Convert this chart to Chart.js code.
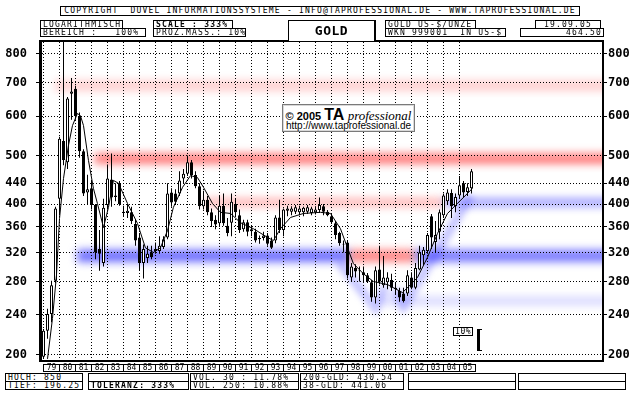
<!DOCTYPE html>
<html>
<head>
<meta charset="utf-8">
<title>GOLD US-$/UNZE</title>
<script src="https://cdn.jsdelivr.net/npm/chart.js@4.4.1/dist/chart.umd.min.js"></script>
<style>
html,body{margin:0;padding:0;background:#fff;}
#wrap{position:relative;width:640px;height:400px;overflow:hidden;background:#fff;}
#c{position:absolute;left:0;top:0;width:640px;height:400px;}
.b{position:absolute;box-sizing:border-box;border:1px solid #000;height:9px;font-family:"DejaVu Sans Mono",monospace;font-size:8px;line-height:7px;letter-spacing:1.2px;padding-left:2px;white-space:pre;color:#000;background:#fff;overflow:hidden;}
.bold{font-weight:bold;}
.c{text-align:center;padding-left:0;}
.r{text-align:right;padding-right:1px;}
#logo{position:absolute;left:282px;top:104px;width:133px;height:28px;box-sizing:border-box;border:1px solid #7a7a7a;background:#fff;box-shadow:inset 0 0 0 1px #d8d8d8;color:#000;}
#logo .l1{position:absolute;left:0;top:1px;width:131px;text-align:center;line-height:14px;white-space:nowrap;}
#logo .l2{position:absolute;left:0;top:15px;width:131px;text-align:center;line-height:11px;white-space:nowrap;font-family:"Liberation Sans",Arial,sans-serif;font-size:10px;}
</style>
</head>
<body>
<div id="wrap">
<canvas id="c" width="640" height="400"></canvas>

<div class="b c" style="left:60px;top:6px;width:520px;height:10px;line-height:8px;">COPYRIGHT  DUVEL INFORMATIONSSYSTEME - INFO@TAPROFESSIONAL.DE - WWW.TAPROFESSIONAL.DE</div>
<div class="b" style="left:40px;top:20px;width:83px;">LOGARITHMISCH</div>
<div class="b" style="left:40px;top:28px;width:106px;">BEREICH :   100%</div>
<div class="b bold" style="left:153px;top:20px;width:80px;">SCALE : 333%</div>
<div class="b" style="left:153px;top:28px;width:93px;">PROZ.MASS.: 10%</div>
<div class="b bold c" style="left:288px;top:20px;width:88px;height:21px;border-right-width:2px;border-bottom:none;font-size:13px;line-height:19px;letter-spacing:0.5px;">GOLD</div>
<div class="b" style="left:385px;top:20px;width:91px;">GOLD US-$/UNZE</div>
<div class="b" style="left:385px;top:28px;width:121px;">WKN 999001  IN US-$</div>
<div class="b c" style="left:535px;top:20px;width:66px;">19.09.05</div>
<div class="b r" style="left:520px;top:28px;width:84px;">464.50</div>

<div class="b" style="left:5px;top:373px;width:78px;">HOCH: 850</div>
<div class="b" style="left:5px;top:381px;width:78px;">TIEF: 196.25</div>
<div class="b" style="left:88px;top:373px;width:101px;"></div>
<div class="b bold" style="left:88px;top:381px;width:101px;">TOLERANZ: 333%</div>
<div class="b" style="left:190px;top:373px;width:109px;">VOL. 30 : 11.78%</div>
<div class="b" style="left:190px;top:381px;width:109px;">VOL. 250: 10.88%</div>
<div class="b" style="left:300px;top:373px;width:104px;">200-GLD: 430.54</div>
<div class="b" style="left:300px;top:381px;width:104px;">38-GLD: 441.06</div>
<div class="b" style="left:408px;top:373px;width:108px;"></div>
<div class="b" style="left:408px;top:381px;width:108px;"></div>
<div class="b" style="left:518px;top:373px;width:108px;"></div>
<div class="b" style="left:518px;top:381px;width:108px;"></div>

<div class="b" style="left:453px;top:327px;width:20px;padding-left:1px;letter-spacing:0.6px;">10%</div>

<div id="logo">
 <div class="l1"><span style="font:bold 11px 'Liberation Sans',Arial,sans-serif;">© 2005 </span><span style="font:bold 16px 'Liberation Sans',Arial,sans-serif;">TA</span><span style="font:italic 13px 'Liberation Serif','Times New Roman',serif;"> professional</span></div>
 <div class="l2">http://www.taprofessional.de</div>
</div>
</div>

<script>
// ---------- DATA ----------
// quarterly candles, each plotted at its quarter end
const periods = [
 '78Q4',
 '79Q1','79Q2','79Q3','79Q4',
 '80Q1','80Q2','80Q3','80Q4',
 '81Q1','81Q2','81Q3','81Q4',
 '82Q1','82Q2','82Q3','82Q4',
 '83Q1','83Q2','83Q3','83Q4',
 '84Q1','84Q2','84Q3','84Q4',
 '85Q1','85Q2','85Q3','85Q4',
 '86Q1','86Q2','86Q3','86Q4',
 '87Q1','87Q2','87Q3','87Q4',
 '88Q1','88Q2','88Q3','88Q4',
 '89Q1','89Q2','89Q3','89Q4',
 '90Q1','90Q2','90Q3','90Q4',
 '91Q1','91Q2','91Q3','91Q4',
 '92Q1','92Q2','92Q3','92Q4',
 '93Q1','93Q2','93Q3','93Q4',
 '94Q1','94Q2','94Q3','94Q4',
 '95Q1','95Q2','95Q3','95Q4',
 '96Q1','96Q2','96Q3','96Q4',
 '97Q1','97Q2','97Q3','97Q4',
 '98Q1','98Q2','98Q3','98Q4',
 '99Q1','99Q2','99Q3','99Q4',
 '00Q1','00Q2','00Q3','00Q4',
 '01Q1','01Q2','01Q3','01Q4',
 '02Q1','02Q2','02Q3','02Q4',
 '03Q1','03Q2','03Q3','03Q4',
 '04Q1','04Q2','04Q3','04Q4',
 '05Q1','05Q2','05Q3'
];
const openVals = [
 198,223,241,281,410, 535,485,665,680,600, 510,422,430,398,325, 305,398,448,416,440,
 386,384,385,365,343, 305,312,320,322,322, 328,343,422,420,420, 450,460,485,457,434,
 396,408,385,372,366, 397,362,367,400,380, 356,368,353,352,340, 342,346,338,338,376,
 355,388,386,386,385, 385,386,384,385,389, 396,386,378,366,350, 333,335,285,298,295,
 292,288,279,260,296, 275,279,282,272,268, 265,265,285,272,296, 316,322,378,336,352,
 380,405,421,396,416, 440,423,430];
const highVals = [
 225,247,281,395,545, 850,655,715,690,610, 515,458,445,400,355, 410,480,505,440,445,
 397,400,395,372,350, 332,330,330,335,345, 345,440,430,428,465, 470,500,490,465,440,
 425,415,392,380,415, 420,375,420,410,390, 372,372,362,357,346, 352,350,343,380,408,
 392,397,396,398,397, 395,398,395,396,412, 400,389,384,370,352, 338,338,305,303,300,
 300,291,282,300,330, 315,292,290,278,272, 272,295,292,305,330, 328,350,382,370,390,
 420,428,428,420,455, 445,440,470];
const lowVals = [
 196,215,232,278,380, 478,470,590,590,495, 415,400,390,310,294, 300,390,395,405,397,
 377,375,365,330,294, 284,305,310,318,318, 325,340,395,398,415, 440,455,450,430,390,
 390,380,360,356,360, 362,345,345,378,350, 352,345,345,335,333, 338,330,325,334,350,
 345,378,380,382,380, 378,382,380,381,384, 380,378,365,340,330, 320,284,280,285,280,
 280,278,255,253,276, 272,270,268,264,255, 254,262,270,270,295, 302,318,325,320,340,
 375,398,375,385,410, 412,415,420];
const closeVals = [
 223,241,275,392,540, 490,650,672,600,510, 420,428,398,320,318, 393,450,412,413,400,
 384,388,370,338,305, 325,318,313,325,330, 340,420,403,404,446, 460,485,457,434,396,
 408,385,370,364,397, 366,350,404,385,355, 368,352,356,338,342, 346,333,327,376,355,
 390,392,392,394,392, 393,394,392,390,398, 386,380,368,347,334, 332,288,300,293,294,
 288,280,260,295,280, 285,285,272,270,260, 256,288,272,298,320, 324,347,343,347,385,
 416,422,396,413,436, 422,432,465];

// moving-average line (decimal year, value)
const maYears = [1979.25,1979.56,1979.81,1980.0,1980.25,1980.56,1980.81,1981.12,1981.31,1981.5,
 1981.81,1982.12,1982.37,1982.75,1983.06,1983.37,1983.69,1984.25,1984.87,1985.37,
 1985.87,1986.31,1986.75,1987.12,1987.69,1988.19,1988.62,1989.0,1989.56,1990.06,
 1990.69,1991.31,1992.12,1993.0,1993.37,1993.81,1994.44,1995.25,1996.31,1996.94,
 1997.56,1998.0,1998.37,1999.0,1999.62,2000.5,2001.44,2001.94,2002.37,2003.0,
 2003.62,2004.25,2004.87,2005.5,2005.81];
const maVals = [196,236,288,374,450,524,574,607,601,574,
 489,430,401,359,394,446,440,401,366,327,
 320,327,354,394,432,456,452,432,401,385,
 383,367,357,343,338,357,376,383,385,383,
 357,327,304,290,280,276,266,276,285,313,
 349,383,401,420,430];

// support / resistance zones
const bandValue = [690, 493, 403, 403, 315, 315, 315, 256];
const bandFrom  = [1979.7, 1982.2, 1989.1, 2004.0, 1981.1, 1998.1, 2002.2, 2000.0];
const bandTo    = [2016, 2016, 2004.0, 2016, 1998.1, 2002.2, 2016, 2016];
const bandKind  = ['res','res','res','sup','sup','res','sup','sup'];

// trend channels (blue shading)
const trend1Years = [1997.5, 1999.75, 2000.35];
const trend1Vals  = [305, 248, 274];
const trend2Years = [2000.95, 2001.5, 2005.69];
const trend2Vals  = [270, 250, 415];

// percentage bracket (10 %)
const bracketVals = [204.5, 225];

// axis ticks
const yTicks = [200,240,280,320,360,400,440,500,600,700,800];
const yearTicks = [1979,1980,1981,1982,1983,1984,1985,1986,1987,1988,1989,1990,1991,1992,1993,1994,1995,1996,1997,1998,1999,2000,2001,2002,2003,2004,2005];
const yearLabels = ['79','80','81','82','83','84','85','86','87','88','89','90','91','92','93','94','95','96','97','98','99','00','01','02','03','04','05'];

// ---------- STYLES ----------
const bandStyle = [
 {color:'#ffcccc', half:5}, {color:'#ff7474', half:5}, {color:'#ffb2b2', half:4},
 {color:'#9c9cff', half:4}, {color:'#6c6cff', half:6}, {color:'#ff8585', half:6},
 {color:'#7878ff', half:6}, {color:'#d6d6ff', half:4}
];
const Y_MIN = 195.0, Y_MAX = 843.7;
const X_MIN = 1978.90625, X_MAX = 2013.90625;

// ---------- BUILD ----------
const xOf = p => {
  const yy = parseInt(p.slice(0,2),10);
  const q = parseInt(p.slice(3),10);
  return (yy >= 50 ? 1900 + yy : 2000 + yy) + q / 4;
};
const xs = periods.map(xOf);
const wickData = periods.map((p,i) => ({x: xs[i], y: [lowVals[i], highVals[i]]}));
const bodyData = periods.map((p,i) => ({x: xs[i], y: [Math.min(openVals[i],closeVals[i]), Math.max(openVals[i],closeVals[i])]}));
const maData = maYears.map((yr,i) => ({x: yr, y: maVals[i]}));
const t1 = trend1Years.map((yr,i) => ({x: yr, y: trend1Vals[i]}));
const t2 = trend2Years.map((yr,i) => ({x: yr, y: trend2Vals[i]}));

const bandPlugin = {
  id: 'bands',
  beforeDatasetsDraw(chart) {
    const {ctx, chartArea: a, scales: {x, y}} = chart;
    ctx.save();
    ctx.beginPath();
    ctx.rect(a.left, a.top, a.right - a.left, a.bottom - a.top);
    ctx.clip();
    // vertical dotted year grid lines
    ctx.strokeStyle = '#000';
    ctx.lineWidth = 1;
    ctx.setLineDash([1, 2]);
    yearTicks.forEach(v => {
      const px = Math.floor(x.getPixelForValue(v)) + 0.5;
      ctx.beginPath();
      ctx.moveTo(px, a.top);
      ctx.lineTo(px, a.bottom);
      ctx.stroke();
    });
    ctx.setLineDash([]);
    // zones
    ctx.globalCompositeOperation = 'multiply';
    ctx.filter = 'blur(4px)';
    for (let i = 0; i < bandValue.length; i++) {
      const yc = y.getPixelForValue(bandValue[i]);
      const x1 = x.getPixelForValue(bandFrom[i]);
      const x2 = x.getPixelForValue(bandTo[i]);
      const h = bandStyle[i].half;
      ctx.fillStyle = bandStyle[i].color;
      ctx.fillRect(x1, yc - h, x2 - x1, 2 * h);
    }
    ctx.restore();
  }
};

const blurPlugin = {
  id: 'dsblur',
  beforeDatasetDraw(chart, args) {
    const ds = chart.data.datasets[args.index];
    if (ds.blurPx) {
      chart.ctx.save();
      chart.ctx.filter = 'blur(' + ds.blurPx + 'px)';
      chart.ctx.globalCompositeOperation = 'multiply';
    }
  },
  afterDatasetDraw(chart, args) {
    const ds = chart.data.datasets[args.index];
    if (ds.blurPx) chart.ctx.restore();
  }
};

const framePlugin = {
  id: 'frame',
  afterDraw(chart) {
    const {ctx, chartArea: a, scales: {x, y}} = chart;
    ctx.save();
    ctx.fillStyle = '#000';
    ctx.fillRect(a.left - 3, a.top - 2, a.right - a.left + 5, 2);
    ctx.fillRect(a.left - 3, a.top - 2, 3, a.bottom - a.top + 4);
    ctx.fillRect(a.right, a.top - 2, 2, a.bottom - a.top + 4);
    ctx.fillRect(a.left - 3, a.bottom, a.right - a.left + 5, 2);
    // year label boxes
    const yb0 = a.bottom + 4, yb1 = a.bottom + 11;
    const px = yearTicks.map(v => Math.floor(x.getPixelForValue(v)));
    const pend = Math.floor(x.getPixelForValue(yearTicks[yearTicks.length - 1] + 1));
    ctx.fillRect(px[0], yb0, pend - px[0] + 1, 1);
    ctx.fillRect(px[0], yb1, pend - px[0] + 1, 1);
    px.concat([pend]).forEach(p => ctx.fillRect(p, yb0, 1, yb1 - yb0 + 1));
    // 10% bracket
    const bt = Math.round(y.getPixelForValue(bracketVals[1]));
    const bb = Math.round(y.getPixelForValue(bracketVals[0]));
    ctx.fillRect(477, bt, 3, bb - bt + 1);
    ctx.fillRect(477, bt, 5, 1);
    ctx.fillRect(477, bb, 5, 1);
    ctx.restore();
  }
};

const tickFont = {family: 'DejaVu Sans Mono', size: 12, weight: 'bold'};
const setYTicks = s => { s.ticks = yTicks.map(v => ({value: v})); };

new Chart(document.getElementById('c'), {
  type: 'bar',
  data: {
    datasets: [
      {type: 'line', data: t1, borderColor: 'rgba(110,110,255,0.4)', borderWidth: 9, pointRadius: 0, tension: 0, fill: false, order: 5, blurPx: 3},
      {type: 'line', data: t2, borderColor: 'rgba(110,110,255,0.4)', borderWidth: 9, pointRadius: 0, tension: 0, fill: false, order: 5, blurPx: 3},
      {type: 'bar', data: wickData, backgroundColor: '#000', borderWidth: 0, barThickness: 1, grouped: false, inflateAmount: 0, order: 3},
      {type: 'bar', data: bodyData,
        backgroundColor: c => (closeVals[c.dataIndex] >= openVals[c.dataIndex] ? '#fff' : '#000'),
        borderColor: '#000', borderWidth: 1, borderSkipped: false, barThickness: 3, grouped: false, inflateAmount: 0, order: 2},
      {type: 'line', data: maData, borderColor: '#000', borderWidth: 1, pointRadius: 0, tension: 0, fill: false, order: 1}
    ]
  },
  options: {
    responsive: false,
    devicePixelRatio: 1,
    animation: false,
    events: [],
    layout: {padding: {top: 42, left: 0, right: 0, bottom: 0}},
    plugins: {legend: {display: false}, tooltip: {enabled: false}, title: {display: false}},
    scales: {
      x: {
        type: 'linear', position: 'bottom', min: X_MIN, max: X_MAX, offset: false,
        afterBuildTicks: s => { s.ticks = yearTicks.map(v => ({value: v})); },
        afterFit: s => { s.height = 40; },
        grid: {display: false, drawTicks: false, offset: false},
        border: {display: false},
        ticks: {
          autoSkip: false, maxRotation: 0, minRotation: 0, padding: 3, labelOffset: 8, color: '#000',
          font: {family: 'DejaVu Sans Mono', size: 8},
          callback: (v, i) => yearLabels[i]
        }
      },
      y: {
        type: 'logarithmic', position: 'left', min: Y_MIN, max: Y_MAX,
        afterBuildTicks: setYTicks,
        afterFit: s => { s.width = 42; },
        grid: {color: '#000', lineWidth: 1, drawTicks: true, tickLength: 6, tickBorderDash: [], tickColor: '#000'},
        border: {display: false, dash: [1, 2]},
        ticks: {autoSkip: false, padding: 9, color: '#000', font: tickFont, callback: v => String(v)}
      },
      yR: {
        type: 'logarithmic', position: 'right', min: Y_MIN, max: Y_MAX,
        afterBuildTicks: setYTicks,
        afterFit: s => { s.width = 38; },
        grid: {color: '#000', lineWidth: 1, drawOnChartArea: false, drawTicks: true, tickLength: 5, tickBorderDash: [], tickColor: '#000'},
        border: {display: false},
        ticks: {autoSkip: false, padding: 1, color: '#000', font: tickFont, callback: v => String(v)}
      }
    }
  },
  plugins: [bandPlugin, blurPlugin, framePlugin]
});
</script>
</body>
</html>
